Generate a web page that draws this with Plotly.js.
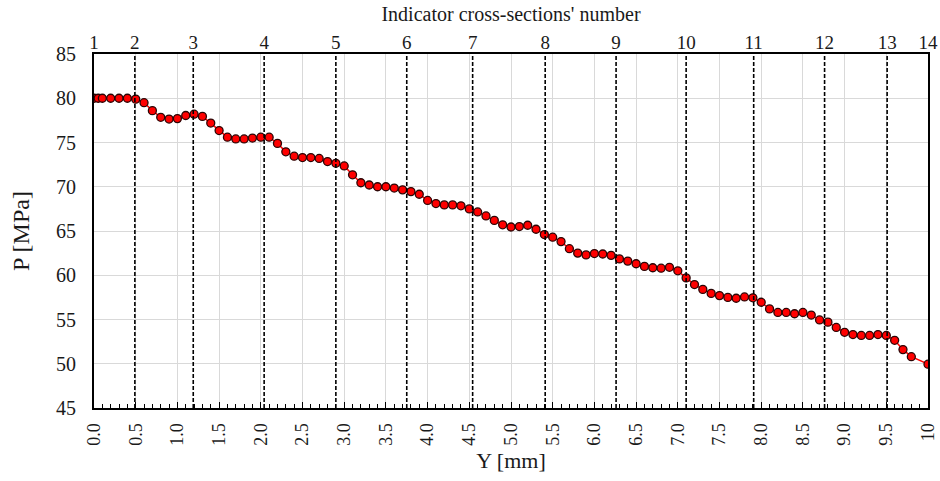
<!DOCTYPE html>
<html>
<head>
<meta charset="utf-8">
<script src="https://cdn.plot.ly/plotly-3.0.1.min.js"></script>
<style>html,body{margin:0;padding:0;background:#fff;}#chart{width:940px;height:481px;}</style>
</head>
<body>
<div id="chart"></div>
<script>
// Y position [mm]
const yPos = [0, 0.05, 0.1, 0.2, 0.3, 0.4, 0.5, 0.6, 0.7, 0.8, 0.9,
  1.0, 1.1, 1.2, 1.3, 1.4, 1.5, 1.6, 1.7, 1.8, 1.9,
  2.0, 2.1, 2.2, 2.3, 2.4, 2.5, 2.6, 2.7, 2.8, 2.9,
  3.0, 3.1, 3.2, 3.3, 3.4, 3.5, 3.6, 3.7, 3.8, 3.9,
  4.0, 4.1, 4.2, 4.3, 4.4, 4.5, 4.6, 4.7, 4.8, 4.9,
  5.0, 5.1, 5.2, 5.3, 5.4, 5.5, 5.6, 5.7, 5.8, 5.9,
  6.0, 6.1, 6.2, 6.3, 6.4, 6.5, 6.6, 6.7, 6.8, 6.9,
  7.0, 7.1, 7.2, 7.3, 7.4, 7.5, 7.6, 7.7, 7.8, 7.9,
  8.0, 8.1, 8.2, 8.3, 8.4, 8.5, 8.6, 8.7, 8.8, 8.9,
  9.0, 9.1, 9.2, 9.3, 9.4, 9.5, 9.6, 9.7, 9.8, 10.0];
// Pressure P [MPa]
const pressure = [80.0, 80.0, 80.0, 80.0, 80.0, 80.0, 79.9, 79.5, 78.6, 77.85, 77.65,
  77.7, 78.05, 78.2, 77.95, 77.2, 76.35, 75.6, 75.4, 75.4, 75.5,
  75.6, 75.6, 74.9, 73.95, 73.45, 73.3, 73.3, 73.2, 72.85, 72.65,
  72.35, 71.35, 70.45, 70.2, 70.0, 70.0, 69.85, 69.65, 69.45, 69.15,
  68.45, 68.1, 67.95, 67.95, 67.85, 67.5, 67.15, 66.7, 66.2, 65.7,
  65.45, 65.5, 65.65, 65.2, 64.6, 64.3, 63.8, 63.0, 62.5, 62.3,
  62.45, 62.4, 62.25, 61.85, 61.6, 61.3, 61.0, 60.85, 60.8, 60.9,
  60.5, 59.7, 58.95, 58.4, 57.95, 57.7, 57.5, 57.4, 57.55, 57.45,
  56.95, 56.2, 55.8, 55.8, 55.65, 55.8, 55.5, 54.95, 54.7, 54.1,
  53.55, 53.3, 53.2, 53.2, 53.3, 53.2, 52.65, 51.6, 50.8, 49.95];
// Indicator cross-sections
const sectionLabels = ['1','2','3','4','5','6','7','8','9','10','11','12','13','14'];
const sectionPos = [0, 0.49, 1.19, 2.04, 2.90, 3.75, 4.54, 5.41, 6.26, 7.10, 7.91, 8.76, 9.51, 10];
// Bottom axis tick labels
const xTickVals = [0,0.5,1,1.5,2,2.5,3,3.5,4,4.5,5,5.5,6,6.5,7,7.5,8,8.5,9,9.5,10];
const xTickText = ['0.0','0.5','1.0','1.5','2.0','2.5','3.0','3.5','4.0','4.5','5.0','5.5','6.0','6.5','7.0','7.5','8.0','8.5','9.0','9.5','10'];

const FONT = 'Liberation Serif';

// dashed section lines (interior sections only)
const dx = [], dy = [];
for (let i = 1; i < sectionPos.length - 1; i++) {
  dx.push(sectionPos[i], sectionPos[i], null);
  dy.push(45, 85, null);
}

const traces = [
  {
    x: dx, y: dy, xaxis: 'x2', yaxis: 'y', mode: 'lines', type: 'scatter',
    line: {color: '#000', width: 1.6, dash: '4px,2px'}, hoverinfo: 'skip', showlegend: false
  },
  {
    x: yPos, y: pressure, mode: 'lines+markers', type: 'scatter',
    line: {color: '#ff0000', width: 1.5},
    marker: {color: '#ff0000', size: 8, line: {color: '#2a0505', width: 1.3}},
    showlegend: false
  }
];

const layout = {
  width: 940, height: 481,
  margin: {l: 94, r: 12, t: 54, b: 73},
  paper_bgcolor: '#fff', plot_bgcolor: '#fff',
  font: {family: FONT, color: '#1a1a1a', size: 18},
  xaxis: {
    range: [0, 10], tickmode: 'array', tickvals: xTickVals, ticktext: xTickText,
    tickangle: -90, tickfont: {size: 18, family: FONT},
    showgrid: true, gridcolor: '#d9d9d9', gridwidth: 1,
    showline: true, linecolor: '#000', linewidth: 2, mirror: true,
    ticks: 'inside', ticklen: 6, tickcolor: '#000', tickwidth: 1,
    minor: {dtick: 0.1, ticks: 'inside', ticklen: 4, tickcolor: '#000', tickwidth: 1, showgrid: false},
    ticklabelstandoff: 6, ticklabeloverflow: 'allow',
    zeroline: false,
    title: {text: 'Y [mm]', font: {size: 22, family: FONT}, standoff: 8}
  },
  xaxis2: {
    overlaying: 'x', side: 'top', range: [0, 10],
    tickmode: 'array', tickvals: sectionPos, ticktext: sectionLabels,
    tickfont: {size: 19, family: FONT}, ticks: '', showgrid: false, showline: false, zeroline: false,
    ticklabeloverflow: 'allow',
    title: {text: "Indicator cross-sections' number", font: {size: 20, family: FONT}, standoff: 5}
  },
  yaxis: {
    range: [45, 85], dtick: 5, tick0: 45,
    tickfont: {size: 20, family: FONT},
    showgrid: true, gridcolor: '#d9d9d9', gridwidth: 1,
    showline: true, linecolor: '#000', linewidth: 2, mirror: true,
    ticks: '', zeroline: false, ticklabelstandoff: 12,
    title: {text: 'P [MPa]', font: {size: 24, family: FONT}, standoff: 20}
  }
};

Plotly.newPlot('chart', traces, layout, {staticPlot: true, displayModeBar: false});
</script>
</body>
</html>
